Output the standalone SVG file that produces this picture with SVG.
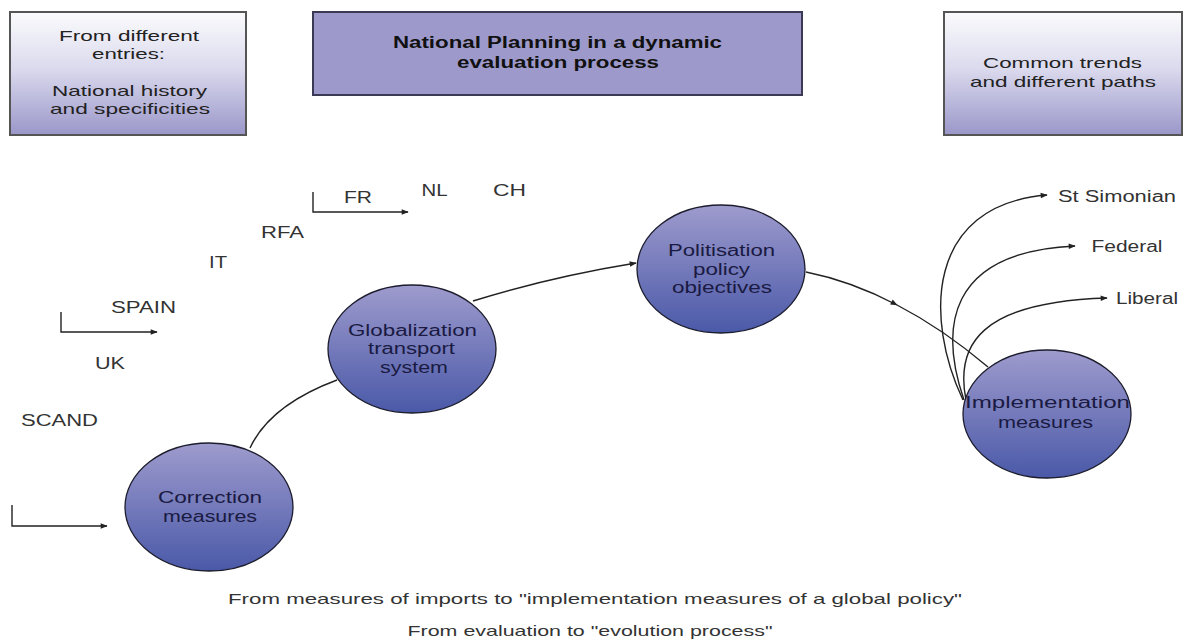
<svg xmlns="http://www.w3.org/2000/svg" width="1187" height="641" viewBox="0 0 1187 641">
  <defs>
    <linearGradient id="boxGrad" x1="0" y1="0" x2="0" y2="1">
      <stop offset="0" stop-color="#fbfbfd"/>
      <stop offset="0.45" stop-color="#dcdbee"/>
      <stop offset="1" stop-color="#9a97c9"/>
    </linearGradient>
    <linearGradient id="nodeGrad" x1="0" y1="0" x2="0" y2="1">
      <stop offset="0" stop-color="#9e9bcd"/>
      <stop offset="1" stop-color="#4a59a8"/>
    </linearGradient>
    <marker id="arrow" viewBox="0 0 10 10" refX="9" refY="5" markerWidth="9" markerHeight="7" markerUnits="userSpaceOnUse" orient="auto">
      <path d="M0,1 L10,5 L0,9 Z" fill="#222"/>
    </marker>
    <style>
      .side { fill: url(#boxGrad); stroke: #555; stroke-width: 2; }
      .head { fill: #9d9acb; stroke: #3a3a55; stroke-width: 2; }
      .node { fill: url(#nodeGrad); stroke: #1c1c2c; stroke-width: 1.3; }
      .t { font-family: "Liberation Sans", Arial, sans-serif; fill: #222; text-anchor: middle; }
      .box { font-size: 15px; }
      .title { font-size: 16px; font-weight: bold; fill: #111; }
      .lbl { font-size: 16px; fill: #333; }
      .in { font-size: 16px; fill: #1a1a42; }
      .foot { font-size: 15px; fill: #333; }
      .edge { fill: none; stroke: #222; stroke-width: 1.4; }
    </style>
  </defs>

  <rect width="1187" height="641" fill="#ffffff"/>

  <!-- header boxes -->
  <g id="box-entries">
    <rect class="side" x="10" y="12" width="236" height="123"/>
    <text class="t box" x="129" y="40.5" textLength="140" lengthAdjust="spacingAndGlyphs">From different</text>
    <text class="t box" x="128.5" y="58.5" textLength="73" lengthAdjust="spacingAndGlyphs">entries:</text>
    <text class="t box" x="129.5" y="95.5" textLength="155" lengthAdjust="spacingAndGlyphs">National history</text>
    <text class="t box" x="130" y="113.5" textLength="160" lengthAdjust="spacingAndGlyphs">and specificities</text>
  </g>

  <g id="box-title">
    <rect class="head" x="313" y="12" width="489" height="83"/>
    <text class="t title" x="557.5" y="48" textLength="329" lengthAdjust="spacingAndGlyphs">National Planning in a dynamic</text>
    <text class="t title" x="558" y="68" textLength="202" lengthAdjust="spacingAndGlyphs">evaluation process</text>
  </g>

  <g id="box-trends">
    <rect class="side" x="944" y="12" width="238" height="123"/>
    <text class="t box" x="1062.5" y="67.5" textLength="159" lengthAdjust="spacingAndGlyphs">Common trends</text>
    <text class="t box" x="1063" y="86.5" textLength="186" lengthAdjust="spacingAndGlyphs">and different paths</text>
  </g>

  <!-- country labels -->
  <g id="countries">
    <text class="t lbl" x="358" y="203" textLength="28" lengthAdjust="spacingAndGlyphs">FR</text>
    <text class="t lbl" x="434.5" y="196" textLength="26" lengthAdjust="spacingAndGlyphs">NL</text>
    <text class="t lbl" x="509.5" y="196" textLength="33" lengthAdjust="spacingAndGlyphs">CH</text>
    <text class="t lbl" x="282.5" y="238" textLength="43" lengthAdjust="spacingAndGlyphs">RFA</text>
    <text class="t lbl" x="218" y="268" textLength="18" lengthAdjust="spacingAndGlyphs">IT</text>
    <text class="t lbl" x="143.5" y="313" textLength="65" lengthAdjust="spacingAndGlyphs">SPAIN</text>
    <text class="t lbl" x="110" y="369" textLength="30" lengthAdjust="spacingAndGlyphs">UK</text>
    <text class="t lbl" x="59.5" y="426" textLength="77" lengthAdjust="spacingAndGlyphs">SCAND</text>
  </g>

  <!-- connectors -->
  <g id="connectors">
    <path class="edge" d="M313,192 V212 H408" marker-end="url(#arrow)"/>
    <path class="edge" d="M61,312 V332 H157" marker-end="url(#arrow)"/>
    <path class="edge" d="M12,505 V526 H107" marker-end="url(#arrow)"/>

    <path class="edge" d="M250,448 Q270,405 337,380"/>
    <path class="edge" d="M473,301 Q550,277 636,263" marker-end="url(#arrow)"/>
    <path class="edge" d="M806,272 Q851.5,281 897,305" marker-end="url(#arrow)"/>
    <path class="edge" d="M897,305 Q942.5,328.5 988,367"/>

    <path class="edge" d="M963,400 C925,320 925,205 1047,195" marker-end="url(#arrow)"/>
    <path class="edge" d="M964,400 C940,330 945,252 1075,246" marker-end="url(#arrow)"/>
    <path class="edge" d="M966,400 C955,345 980,302 1107,298" marker-end="url(#arrow)"/>
  </g>

  <!-- process nodes -->
  <g id="node-correction">
    <ellipse class="node" cx="209" cy="507" rx="84" ry="64"/>
    <text class="t in" x="210" y="502.5" textLength="104" lengthAdjust="spacingAndGlyphs">Correction</text>
    <text class="t in" x="210" y="521.5" textLength="94" lengthAdjust="spacingAndGlyphs">measures</text>
  </g>

  <g id="node-globalization">
    <ellipse class="node" cx="412" cy="349" rx="84" ry="64"/>
    <text class="t in" x="412.5" y="335.5" textLength="129" lengthAdjust="spacingAndGlyphs">Globalization</text>
    <text class="t in" x="411.5" y="353.5" textLength="87" lengthAdjust="spacingAndGlyphs">transport</text>
    <text class="t in" x="414" y="372.5" textLength="68" lengthAdjust="spacingAndGlyphs">system</text>
  </g>

  <g id="node-politisation">
    <ellipse class="node" cx="721" cy="269" rx="84" ry="64"/>
    <text class="t in" x="721.5" y="255.5" textLength="107" lengthAdjust="spacingAndGlyphs">Politisation</text>
    <text class="t in" x="721.5" y="274.5" textLength="57" lengthAdjust="spacingAndGlyphs">policy</text>
    <text class="t in" x="722" y="292.5" textLength="100" lengthAdjust="spacingAndGlyphs">objectives</text>
  </g>

  <g id="node-implementation">
    <ellipse class="node" cx="1047" cy="414" rx="84" ry="64"/>
    <text class="t in" x="1047.5" y="407.5" textLength="165" lengthAdjust="spacingAndGlyphs">Implementation</text>
    <text class="t in" x="1045.5" y="427.5" textLength="95" lengthAdjust="spacingAndGlyphs">measures</text>
  </g>

  <!-- outcome labels -->
  <g id="paths">
    <text class="t lbl" x="1117" y="202" textLength="118" lengthAdjust="spacingAndGlyphs">St Simonian</text>
    <text class="t lbl" x="1127" y="252" textLength="71" lengthAdjust="spacingAndGlyphs">Federal</text>
    <text class="t lbl" x="1147" y="304" textLength="62" lengthAdjust="spacingAndGlyphs">Liberal</text>
  </g>

  <!-- footer -->
  <g id="footer">
    <text class="t foot" x="595" y="604" textLength="734" lengthAdjust="spacingAndGlyphs">From measures of imports to "implementation measures of a global policy"</text>
    <text class="t foot" x="590" y="636" textLength="365" lengthAdjust="spacingAndGlyphs">From evaluation to "evolution process"</text>
  </g>
</svg>
